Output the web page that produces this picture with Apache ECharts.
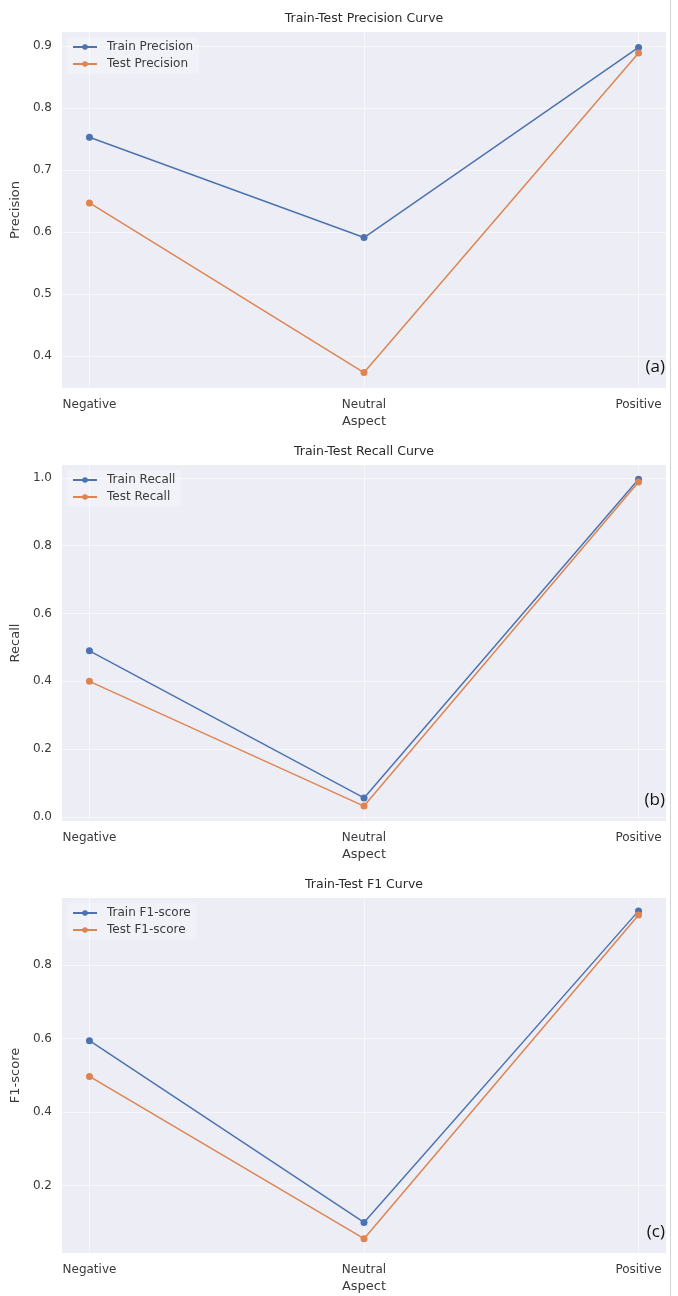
<!DOCTYPE html>
<html>
<head>
<meta charset="utf-8">
<script src="https://cdn.jsdelivr.net/npm/echarts@6/dist/echarts.min.js"></script>
<style>
html,body{margin:0;padding:0;background:#fff;}
#chart{width:678px;height:1296px;}
</style>
</head>
<body>
<div id="chart"></div>
<script>
const categories = ['Negative', 'Neutral', 'Positive'];
const precisionTrain = [0.753, 0.591, 0.898];
const precisionTest = [0.647, 0.373, 0.889];
const recallTrain = [0.490, 0.056, 0.996];
const recallTest = [0.400, 0.032, 0.988];
const f1Train = [0.594, 0.100, 0.947];
const f1Test = [0.497, 0.056, 0.936];
const precisionTicks = [0.4, 0.5, 0.6, 0.7, 0.8, 0.9];
const recallTicks = [0.0, 0.2, 0.4, 0.6, 0.8, 1.0];
const f1Ticks = [0.2, 0.4, 0.6, 0.8];
const titles = ['Train-Test Precision Curve', 'Train-Test Recall Curve', 'Train-Test F1 Curve'];
const yNames = ['Precision', 'Recall', 'F1-score'];
const panelTags = ['(a)', '(b)', '(c)'];
const xName = 'Aspect';

const FONT = 'DejaVu Sans';
const TXT = '#3a3a3a';
const BLUE = '#4C72B0';
const ORANGE = '#DD8452';
const BG = '#EDEEF5';
const GRIDC = 'rgba(255,255,255,0.6)';

const panels = [
  {top: 32, height: 356, min: 0.348, max: 0.923, ticks: precisionTicks, train: precisionTrain, test: precisionTest,
   names: ['Train Precision', 'Test Precision']},
  {top: 465, height: 356, min: -0.012, max: 1.038, ticks: recallTicks, train: recallTrain, test: recallTest,
   names: ['Train Recall', 'Test Recall']},
  {top: 898, height: 355, min: 0.017, max: 0.982, ticks: f1Ticks, train: f1Train, test: f1Test,
   names: ['Train F1-score', 'Test F1-score']}
];
const LEFT = 62, WIDTH = 604;

const grids = [], xAxes = [], yAxes = [], series = [], legends = [], graphics = [];
panels.forEach((p, k) => {
  grids.push({left: LEFT, top: p.top, width: WIDTH, height: p.height, show: true,
    backgroundColor: BG, borderWidth: 0, containLabel: false});
  xAxes.push({type: 'value', gridIndex: k, min: -0.1, max: 2.1,
    name: xName, nameLocation: 'middle', nameGap: 27,
    nameTextStyle: {fontFamily: FONT, fontSize: 13, color: TXT},
    axisLine: {show: false},
    axisTick: {show: false, customValues: [0, 1, 2]},
    axisLabel: {customValues: [0, 1, 2], margin: 11, fontFamily: FONT, fontSize: 12, color: TXT,
      formatter: v => categories[Math.round(v)]},
    splitLine: {show: true, lineStyle: {color: GRIDC, width: 1}}
  });
  yAxes.push({type: 'value', gridIndex: k, min: p.min, max: p.max,
    name: yNames[k], nameLocation: 'middle', nameGap: 33,
    nameTextStyle: {fontFamily: FONT, fontSize: 13, color: TXT},
    axisLine: {show: false},
    axisTick: {show: false, customValues: p.ticks},
    axisLabel: {customValues: p.ticks, margin: 10, fontFamily: FONT, fontSize: 12, color: TXT,
      formatter: v => v.toFixed(1)},
    splitLine: {show: true, lineStyle: {color: GRIDC, width: 1}}
  });
  const mk = (name, arr, color) => ({
    name: name, type: 'line', xAxisIndex: k, yAxisIndex: k,
    data: categories.map((c, i) => [i, arr[i]]),
    symbol: 'circle', symbolSize: 7,
    lineStyle: {color: color, width: 1.5},
    itemStyle: {color: color},
    emphasis: {disabled: true}, animation: false
  });
  series.push(mk(p.names[0], p.train, BLUE));
  series.push(mk(p.names[1], p.test, ORANGE));
  legends.push({data: p.names, orient: 'vertical', left: 67, top: p.top + 5,
    itemWidth: 24, itemHeight: 7, itemGap: 5, padding: [4, 6, 4, 5],
    backgroundColor: 'rgba(255,255,255,0.25)', borderRadius: 3,
    selectedMode: false,
    textStyle: {fontFamily: FONT, fontSize: 12, color: TXT, padding: [0, 0, 0, 5]}
  });
  graphics.push({type: 'text', x: LEFT + WIDTH / 2, y: p.top - 13,
    style: {text: titles[k], fontFamily: FONT, fontSize: 12.5, fill: '#2a2a2a',
      textAlign: 'center', textVerticalAlign: 'middle'}});
  graphics.push({type: 'text', x: LEFT + WIDTH - 1, y: p.top + p.height - 21,
    style: {text: panelTags[k], fontFamily: 'Open Sans', fontSize: 17, fill: '#111',
      textAlign: 'right', textVerticalAlign: 'middle'}});
});
graphics.push({type: 'line', shape: {x1: 670.5, y1: 0, x2: 670.5, y2: 1296},
  style: {stroke: '#d4d4d4', lineWidth: 1}});

const chart = echarts.init(document.getElementById('chart'), null, {renderer: 'canvas'});
chart.setOption({
  backgroundColor: '#ffffff',
  animation: false,
  grid: grids, xAxis: xAxes, yAxis: yAxes, series: series, legend: legends,
  graphic: graphics
});
</script>
</body>
</html>
